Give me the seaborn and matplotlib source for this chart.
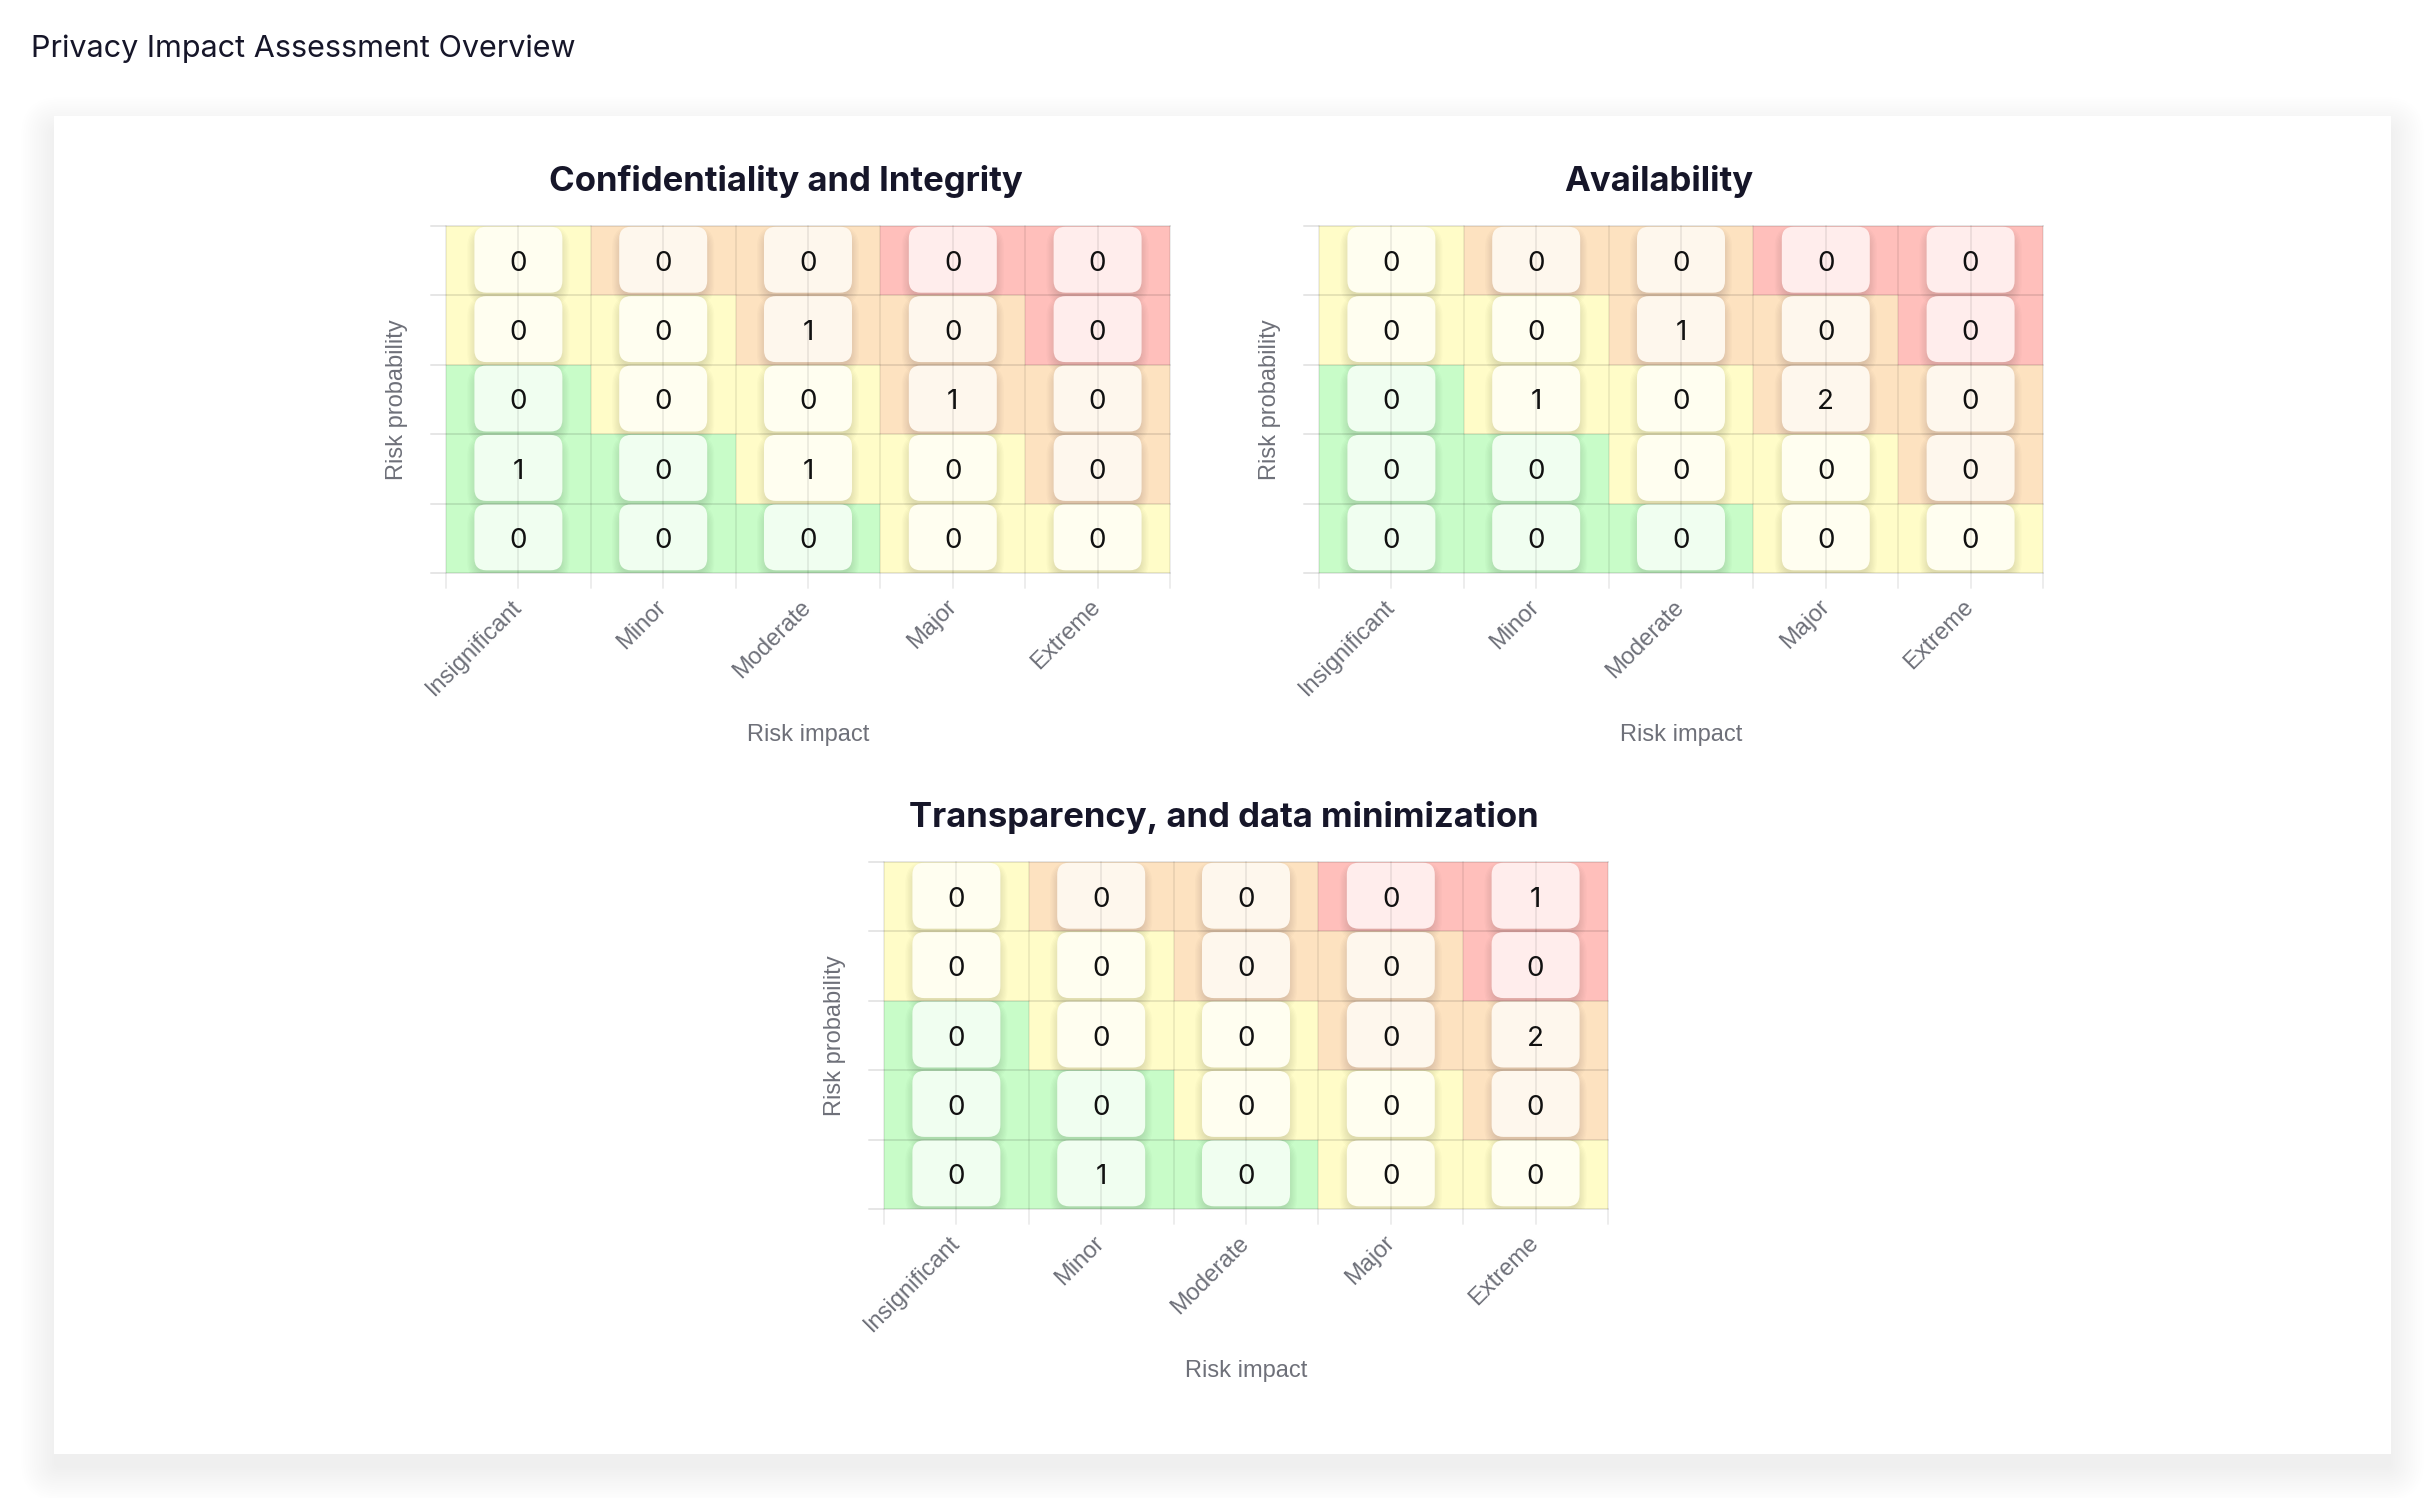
import numpy as np
import matplotlib
matplotlib.use('Agg')
import matplotlib.pyplot as plt
import seaborn as sns
from matplotlib.colors import ListedColormap, to_rgb
from matplotlib.patches import FancyBboxPatch, Rectangle

# ---- data ----
impact_labels = ['Insignificant', 'Minor', 'Moderate', 'Major', 'Extreme']

# risk level of each cell (rows: highest probability at top)
# 0 = low (green), 1 = medium (yellow), 2 = high (orange), 3 = critical (red)
risk_levels = [
    [1, 2, 2, 3, 3],
    [1, 1, 2, 2, 3],
    [0, 1, 1, 2, 2],
    [0, 0, 1, 1, 2],
    [0, 0, 0, 1, 1],
]
level_colors = ['#c8fcc8', '#fffcc8', '#fde2c0', '#ffbfbb']

conf_integrity = [
    [0, 0, 0, 0, 0],
    [0, 0, 1, 0, 0],
    [0, 0, 0, 1, 0],
    [1, 0, 1, 0, 0],
    [0, 0, 0, 0, 0],
]
availability = [
    [0, 0, 0, 0, 0],
    [0, 0, 1, 0, 0],
    [0, 1, 0, 2, 0],
    [0, 0, 0, 0, 0],
    [0, 0, 0, 0, 0],
]
transparency = [
    [0, 0, 0, 0, 1],
    [0, 0, 0, 0, 0],
    [0, 0, 0, 0, 2],
    [0, 0, 0, 0, 0],
    [0, 1, 0, 0, 0],
]

chart_titles = ['Confidentiality and Integrity', 'Availability',
                'Transparency, and data minimization']

# ---- layout (pixels) ----
W, H = 2430, 1498
# left, top, right, bottom of each heatmap
boxes = [(446, 226, 1170, 573), (1319, 226, 2043, 573), (884, 862, 1608, 1209)]
title_y = [181, 181, 818]

sns.set_theme(style='white')
plt.rcParams['font.family'] = ['Inter', 'DejaVu Sans']

fig = plt.figure(figsize=(W / 100, H / 100), dpi=100)
fig.patch.set_facecolor('white')

# background card with soft shadow
bg = fig.add_axes([0, 0, 1, 1], zorder=-1)
bg.set_xlim(0, W)
bg.set_ylim(H, 0)
bg.axis('off')
cx0, cy0, cx1, cy1 = 54, 116, 2391, 1454
for i in range(16):
    s = i * 2.2
    bg.add_patch(FancyBboxPatch((cx0 - s, cy0 - s + 14), cx1 - cx0 + 2 * s, cy1 - cy0 + 2 * s,
                                boxstyle=f'round,pad=0,rounding_size={6 + s}',
                                fc='black', ec='none', alpha=0.005))
bg.add_patch(Rectangle((cx0, cy0), cx1 - cx0, cy1 - cy0, fc='white', ec='none'))

fig.text(31 / W, 1 - 49 / H, 'Privacy Impact Assessment Overview',
         fontsize=22, color='#161629', ha='left', va='center')

tick_color = '#6e7079'
all_counts = [conf_integrity, availability, transparency]
cmap = ListedColormap(level_colors)

for (l, t, r, b), counts, title, ty in zip(boxes, all_counts, chart_titles, title_y):
    ax = fig.add_axes([l / W, 1 - b / H, (r - l) / W, (b - t) / H])
    cw = (r - l) / 5
    ch = (b - t) / 5
    sns.heatmap(np.array(risk_levels), ax=ax, cmap=cmap, vmin=-0.5, vmax=3.5,
                cbar=False, annot=np.array(counts), fmt='d',
                annot_kws={'fontsize': 20, 'color': '#111111'})
    for txt in ax.texts:
        px, py = txt.get_position()
        txt.set_y(py + 3 / ch)

    # rounded label boxes with a soft shadow below
    bw, bh, rad = 88 / cw, 66 / ch, 12 / cw
    for i in range(5):
        for j in range(5):
            x0 = j + 0.5 - bw / 2
            y0 = i + 0.5 - bh / 2 - 1 / ch
            for k in range(8):
                e = k * 1.3
                ax.add_patch(FancyBboxPatch(
                    (x0 - (e - 2) / cw, y0 - (e - 2) / ch + 6 / ch),
                    bw + 2 * (e - 2) / cw, bh + 2 * (e - 2) / ch,
                    boxstyle=f'round,pad=0,rounding_size={rad + e / cw}',
                    mutation_aspect=cw / ch, fc='black', ec='none', alpha=0.016, zorder=1.8))
            base = np.array(to_rgb(level_colors[risk_levels[i][j]]))
            box_rgb = 0.72 * np.ones(3) + 0.28 * base
            ax.add_patch(FancyBboxPatch(
                (x0, y0), bw, bh, boxstyle=f'round,pad=0,rounding_size={rad}',
                mutation_aspect=cw / ch, fc=box_rgb, ec='none', zorder=2))

    # split lines and ticks
    tk = 15
    for y in range(6):
        ax.plot([-tk / cw, 5], [y, y], color='black', alpha=0.1, lw=1.4,
                clip_on=False, zorder=2.5)
    for x in np.arange(0, 5.01, 0.5):
        ax.plot([x, x], [0, 5 + tk / ch], color='black', alpha=0.07, lw=1.4,
                clip_on=False, zorder=2.5)

    ax.set_xticks(np.arange(5) + 0.5)
    ax.set_xticklabels(impact_labels, rotation=45, ha='right', va='center',
                       rotation_mode='anchor', fontsize=17, color=tick_color,
                       family=['Liberation Sans', 'DejaVu Sans'])
    ax.tick_params(axis='x', length=0, pad=22)
    ax.set_yticks([])

    ax.set_xlabel('Risk impact', fontsize=17, color=tick_color, va='center',
                  family=['Liberation Sans', 'DejaVu Sans'])
    ax.xaxis.set_label_coords(0.5, -(735 - 573) / 347)
    ax.set_ylabel('Risk probability', fontsize=17, color=tick_color, va='center',
                  family=['Liberation Sans', 'DejaVu Sans'])
    ax.yaxis.set_label_coords(-49 / 724, 0.5)

    fig.text((l + r) / 2 / W - 22 / W, 1 - ty / H, title, fontsize=25, fontweight='bold',
             color='#161629', ha='center', va='center')

fig.savefig('out.png', dpi=100, facecolor='white')
